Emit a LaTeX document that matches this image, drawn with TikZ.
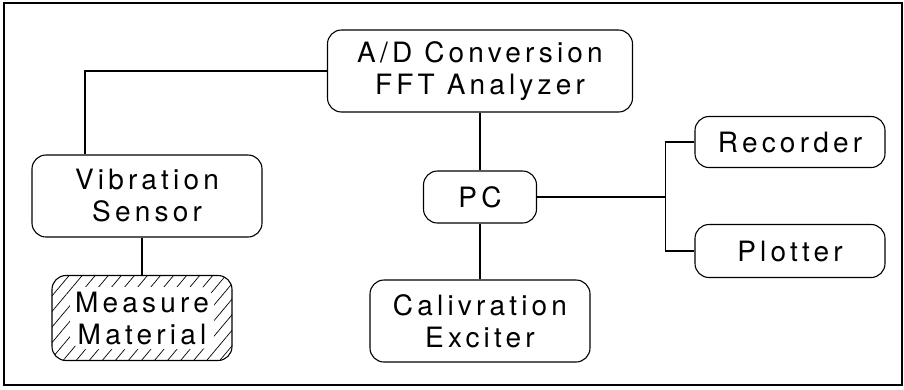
\documentclass[tikz,border=0pt]{standalone}
\usepackage{fontspec}
\setmainfont[LetterSpace=15]{TeX Gyre Heros}
\usepackage{tikz}
\usetikzlibrary{positioning,patterns.meta}

\begin{document}
\begin{tikzpicture}[x=1pt,y=-1pt,line width=1.1pt,
                    font=\fontsize{28}{32}\selectfont]
  \tikzstyle{every node}=[align=center]
  \tikzstyle{unit}=[draw=black,rounded corners=14pt,inner sep=2pt]
  \tikzstyle{sample}=[unit,pattern={Lines[angle=50,distance=10pt,line width=0.7pt]},
      path picture={\fill[white] ([xshift=-72pt,yshift=-31pt]path picture bounding box.center)
                     rectangle ++(144pt,62pt);}]

  \useasboundingbox (0,0) rectangle (904,389);
  \draw (4,3) rectangle (902,385);

  \node[unit, minimum width=305pt, minimum height=82pt] (ad)   at (480,71)  {A/D Conversion\\FFT Analyzer};
  \node[unit, minimum width=230pt, minimum height=82pt] (vib)  at (147,196) {Vibration\\Sensor};
  \node[sample, minimum width=180pt, minimum height=85pt] (meas) at (142,318) {Measure\\Material};
  \node[unit, minimum width=113pt, minimum height=52pt] (pc)   at (480,197) {PC};
  \node[unit, minimum width=220pt, minimum height=82pt] (cal)  at (480,321) {Calivration\\Exciter};
  \node[unit, minimum width=190pt, minimum height=51pt] (rec)  at (790,142) {Recorder};
  \node[unit, minimum width=190pt, minimum height=53pt] (plot) at (790,251) {Plotter};

  \draw (ad.west) -| ([xshift=-62pt]vib.north);
  \draw (meas.north |- vib.south) -- (meas.north);
  \draw (ad.south) -- (pc.north);
  \draw (pc.south) -- (cal.north);
  \draw (pc.east) -- ++(128,0) coordinate (split);
  \draw (split) |- (rec.west);
  \draw (split) |- (plot.west);
\end{tikzpicture}
\end{document}
